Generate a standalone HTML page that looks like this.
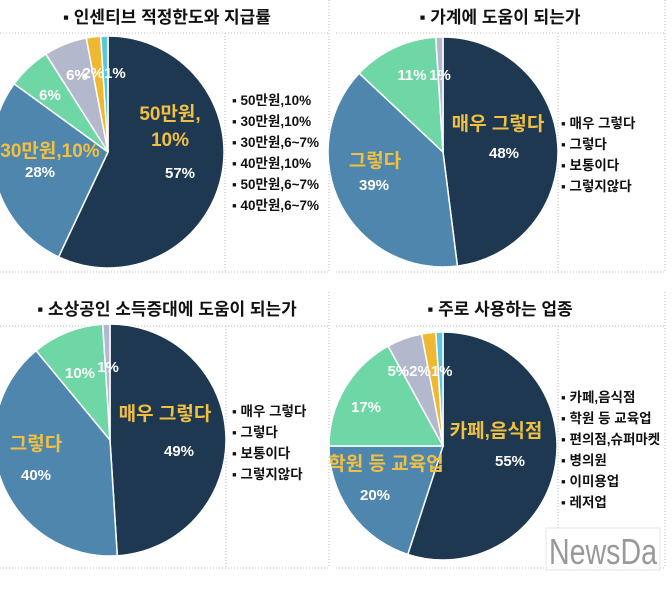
<!DOCTYPE html>
<html><head><meta charset="utf-8"><style>
body{margin:0;background:#fff;width:672px;height:584px;overflow:hidden}
svg text{font-family:"Liberation Sans","Noto Sans CJK KR",sans-serif;font-weight:bold}
</style></head><body>
<svg id="s" width="672" height="584" viewBox="0 0 672 584" xmlns="http://www.w3.org/2000/svg">
<g stroke="#bbb" stroke-dasharray="1,2" fill="none" stroke-width="1">
<line x1="0" y1="33" x2="329" y2="33"/><line x1="336" y1="33" x2="665" y2="33"/>
<line x1="0" y1="272" x2="329" y2="272"/><line x1="336" y1="272" x2="665" y2="272"/>
<line x1="0" y1="326" x2="329" y2="326"/><line x1="336" y1="326" x2="665" y2="326"/>
<line x1="0" y1="568" x2="329" y2="568"/><line x1="336" y1="568" x2="665" y2="568"/>
<line x1="225" y1="33" x2="225" y2="272"/><line x1="558" y1="33" x2="558" y2="272"/>
<line x1="226" y1="326" x2="226" y2="568"/><line x1="558" y1="326" x2="558" y2="568"/>
<line x1="329" y1="0" x2="329" y2="272"/><line x1="665" y1="0" x2="665" y2="272"/>
<line x1="329" y1="292" x2="329" y2="568"/><line x1="665" y1="292" x2="665" y2="568"/>
</g>
<g font-size="17" fill="#111" text-anchor="middle">
<text x="167" y="23">▪ 인센티브 적정한도와 지급률</text>
<text x="500" y="23">▪ 가계에 도움이 되는가</text>
<text x="167" y="315">▪ 소상공인 소득증대에 도움이 되는가</text>
<text x="500" y="315">▪ 주로 사용하는 업종</text>
</g>
<g id="pies"></g>
<g font-size="13.5" fill="#111">
<text x="232" y="105">▪ 50만원,10%</text><text x="232" y="126">▪ 30만원,10%</text><text x="232" y="147">▪ 30만원,6~7%</text><text x="232" y="168">▪ 40만원,10%</text><text x="232" y="189">▪ 50만원,6~7%</text><text x="232" y="210">▪ 40만원,6~7%</text>
<text x="561" y="128">▪ 매우 그렇다</text><text x="561" y="149">▪ 그렇다</text><text x="561" y="170">▪ 보통이다</text><text x="561" y="191">▪ 그렇지않다</text>
<text x="232" y="416">▪ 매우 그렇다</text><text x="232" y="437">▪ 그렇다</text><text x="232" y="458">▪ 보통이다</text><text x="232" y="479">▪ 그렇지않다</text>
<text x="561" y="402">▪ 카페,음식점</text><text x="561" y="423">▪ 학원 등 교육업</text><text x="561" y="444">▪ 편의점,슈퍼마켓</text><text x="561" y="465">▪ 병의원</text><text x="561" y="486">▪ 이미용업</text><text x="561" y="507">▪ 레저업</text>
</g>
<g font-size="15" fill="#fff" text-anchor="middle">
<text x="180" y="178">57%</text><text x="40" y="177">28%</text><text x="50" y="100">6%</text><text x="77" y="80">6%</text><text x="104" y="78">2%1%</text>
<text x="504" y="158">48%</text><text x="374" y="190">39%</text><text x="412" y="80">11%</text><text x="440" y="80">1%</text>
<text x="179" y="456">49%</text><text x="36" y="480">40%</text><text x="80" y="378">10%</text><text x="108" y="372">1%</text>
<text x="510" y="466">55%</text><text x="375" y="500">20%</text><text x="366" y="412">17%</text><text x="420" y="376">5%2%1%</text>
</g>
<g font-size="19" fill="#f2c040" text-anchor="middle">
<text x="170" y="120">50만원,</text><text x="170" y="146">10%</text>
<text x="50" y="157">30만원,10%</text>
<text x="498" y="130">매우 그렇다</text><text x="375" y="167">그렇다</text>
<text x="165" y="420">매우 그렇다</text><text x="36" y="450">그렇다</text>
<text x="496" y="437">카페,음식점</text><text x="386" y="470">학원 등 교육업</text>
</g>
<rect x="546" y="528" width="114" height="42" fill="#fff" opacity="0.75" stroke="#ddd"/>
<text x="549" y="564" font-size="36" fill="#999" textLength="108" lengthAdjust="spacingAndGlyphs" style="font-weight:normal">NewsDa</text>
</svg>
<script>
var cols=["#1d3850","#4e86ae","#6fd6a6","#b4b8cc","#f0b830","#5cc6de"];
var pies=[[108,152,116,[57,28,6,6,2,1]],[443,152,115,[48,39,12,1]],[110,440,116,[49,40,10,1]],[443,446,114,[55,20,17,5,2,1]]];
var g=document.getElementById("pies"),h="";
pies.forEach(function(p){var cx=p[0],cy=p[1],r=p[2],v=p[3],t=v.reduce(function(a,b){return a+b}),a=0;
v.forEach(function(x,i){var a1=a+x/t*2*Math.PI;var x0=cx+r*Math.sin(a),y0=cy-r*Math.cos(a),x1=cx+r*Math.sin(a1),y1=cy-r*Math.cos(a1);
h+='<path d="M'+cx+','+cy+'L'+x0+','+y0+'A'+r+','+r+' 0 '+(a1-a>Math.PI?1:0)+' 1 '+x1+','+y1+'Z" fill="'+cols[i]+'" stroke="#fff" stroke-width="1.5"/>';a=a1;});});
g.innerHTML=h;
</script>
</body></html>
